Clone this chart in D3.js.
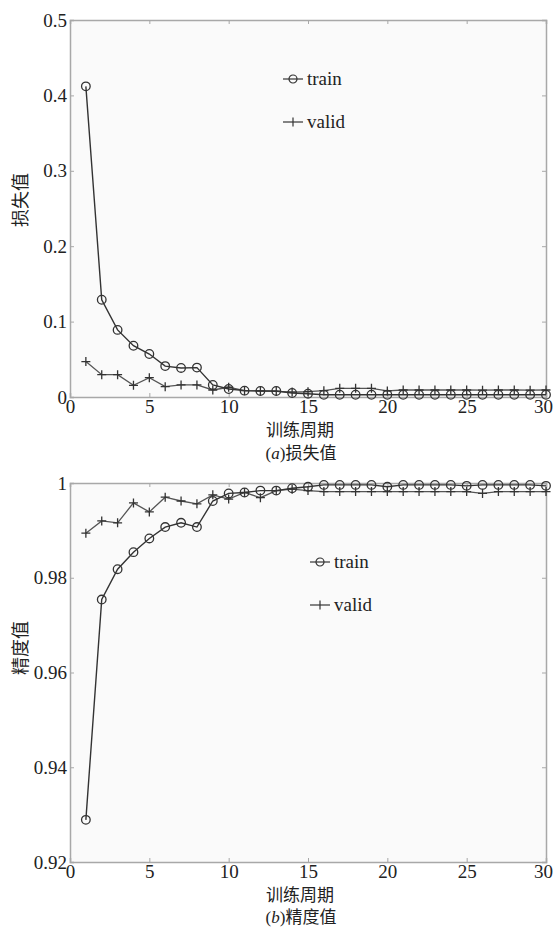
<!DOCTYPE html>
<html>
<head>
<meta charset="utf-8">
<script src="https://cdn.jsdelivr.net/npm/d3@7"></script>
<style>
  body { margin: 0; background: #fff; }
  text { fill: #222; }
</style>
</head>
<body>
<div id="app"></div>
<script>
// data
const epochs = [1, 2, 3, 4, 5, 6, 7, 8, 9, 10, 11, 12, 13, 14, 15, 16, 17, 18, 19, 20, 21, 22, 23, 24, 25, 26, 27, 28, 29, 30];

const lossTrain = [0.412, 0.129, 0.089, 0.068, 0.057, 0.041, 0.0385, 0.039, 0.016, 0.0106,
  0.0084, 0.008, 0.008, 0.0053, 0.0044, 0.003, 0.003, 0.003, 0.003, 0.003,
  0.003, 0.003, 0.003, 0.003, 0.003, 0.003, 0.003, 0.003, 0.003, 0.003];
const lossValid = [0.047, 0.0296, 0.0296, 0.0155, 0.0256, 0.0137, 0.016, 0.016, 0.0093, 0.0129,
  0.0084, 0.008, 0.0075, 0.0065, 0.007, 0.0084, 0.0115, 0.0115, 0.0115, 0.008,
  0.0093, 0.0093, 0.0093, 0.0093, 0.0093, 0.009, 0.0093, 0.0093, 0.009, 0.0093];

const accTrain = [0.9289, 0.9754, 0.9818, 0.9854, 0.9883, 0.9907, 0.9916, 0.9907, 0.9962, 0.9978,
  0.998, 0.9984, 0.9984, 0.9989, 0.9992, 0.9996, 0.9996, 0.9996, 0.9996, 0.9992,
  0.9996, 0.9996, 0.9996, 0.9996, 0.9994, 0.9996, 0.9996, 0.9996, 0.9996, 0.9994];
const accValid = [0.9894, 0.992, 0.9916, 0.9958, 0.9939, 0.997, 0.9962, 0.9956, 0.9975, 0.9966,
  0.998, 0.9969, 0.9984, 0.9987, 0.9984, 0.9982, 0.9982, 0.9982, 0.9982, 0.9982,
  0.9982, 0.9982, 0.9982, 0.9982, 0.9982, 0.9978, 0.9982, 0.9982, 0.9982, 0.9982];

const xTicks = [0, 5, 10, 15, 20, 25, 30];
const lossTicks = [0, 0.1, 0.2, 0.3, 0.4, 0.5];
const lossTickLabels = ['0', '0.1', '0.2', '0.3', '0.4', '0.5'];
const accTicks = [0.92, 0.94, 0.96, 0.98, 1];
const accTickLabels = ['0.92', '0.94', '0.96', '0.98', '1'];

const seriesNames = ['train', 'valid'];

const serif = "'Liberation Serif', 'DejaVu Serif', serif";
const cjk = "'Noto Sans CJK SC', sans-serif";

const svg = d3.select('#app').append('svg')
  .attr('width', 553).attr('height', 927);

// Panel function
function Panel(opts) {
  const { top, bottom, left, right, yDomain, yTicks, yLabels, train, valid,
    yTitle, yTitleY, caption, legendX, legendY, xTitleY, captionY, xPad } = opts;

  const x = d3.scaleLinear().domain([0, 30]).range([left, right]);
  const y = d3.scaleLinear().domain(yDomain).range([bottom, top]);

  const g = svg.append('g');

  g.append('rect')
    .attr('x', left).attr('y', top)
    .attr('width', right - left).attr('height', bottom - top)
    .attr('fill', '#fafafa');

  const fmtY = (d) => yLabels[yTicks.indexOf(d)];

  // inward ticks on all four sides
  const axL = g.append('g').attr('transform', `translate(${left},0)`)
    .call(d3.axisLeft(y).tickValues(yTicks).tickSize(-4).tickPadding(3).tickFormat(fmtY));
  const axR = g.append('g').attr('transform', `translate(${right},0)`)
    .call(d3.axisRight(y).tickValues(yTicks).tickSize(-4).tickFormat(''));
  const axB = g.append('g').attr('transform', `translate(0,${bottom})`)
    .call(d3.axisBottom(x).tickValues(xTicks).tickSize(-4).tickPadding(xPad));
  const axT = g.append('g').attr('transform', `translate(0,${top})`)
    .call(d3.axisTop(x).tickValues(xTicks).tickSize(-4).tickFormat(''));

  [axL, axR, axB, axT].forEach((a) => {
    a.attr('font-family', serif).attr('font-size', 19);
    a.select('.domain').attr('stroke', '#a8a8a8').attr('stroke-width', 1.5);
    a.selectAll('.tick line').attr('stroke', '#a8a8a8');
    a.selectAll('text')
      .style('font-family', serif).style('font-size', '19px').attr('fill', '#222');
  });
  axB.selectAll('.tick text')
    .attr('dx', (d) => (d === 30 ? -3 : 0));

  // lines
  const line = d3.line()
    .x((d, i) => x(epochs[i]))
    .y((d) => y(d));

  g.append('path').attr('d', line(valid))
    .attr('fill', 'none').attr('stroke', '#555').attr('stroke-width', 1.3);
  g.append('path').attr('d', line(train))
    .attr('fill', 'none').attr('stroke', '#333').attr('stroke-width', 1.4);

  // markers
  g.append('g').selectAll('path').data(valid).join('path')
    .attr('d', (d, i) => {
      const cx = x(epochs[i]), cy = y(d);
      return `M${cx - 4.5},${cy}H${cx + 4.5}M${cx},${cy - 4.5}V${cy + 4.5}`;
    })
    .attr('stroke', '#333').attr('stroke-width', 1.3);
  g.append('g').selectAll('circle').data(train).join('circle')
    .attr('cx', (d, i) => x(epochs[i]))
    .attr('cy', (d) => y(d))
    .attr('r', 4.3)
    .attr('fill', 'none').attr('stroke', '#333').attr('stroke-width', 1.3);

  // legend
  const leg = g.append('g').attr('transform', `translate(${legendX},${legendY})`);
  seriesNames.forEach((name, i) => {
    const ly = i * 43;
    leg.append('line').attr('x1', 0).attr('x2', 20).attr('y1', ly).attr('y2', ly)
      .attr('stroke', '#333').attr('stroke-width', 1.2);
    if (i === 0) {
      leg.append('circle').attr('cx', 10).attr('cy', ly).attr('r', 4)
        .attr('fill', 'none').attr('stroke', '#333').attr('stroke-width', 1.2);
    } else {
      leg.append('line').attr('x1', 10).attr('x2', 10).attr('y1', ly - 4.5).attr('y2', ly + 4.5)
        .attr('stroke', '#333').attr('stroke-width', 1.2);
    }
    leg.append('text').attr('x', 24).attr('y', ly).attr('dy', '0.32em')
      .style('font-family', serif).style('font-size', '19px').text(name);
  });

  // titles
  g.append('text')
    .attr('transform', `translate(21,${yTitleY}) rotate(-90)`)
    .attr('text-anchor', 'middle').attr('dy', '0.35em')
    .style('font-family', cjk).style('font-size', '18px').text(yTitle);

  g.append('text')
    .attr('x', 300).attr('y', xTitleY).attr('text-anchor', 'middle')
    .style('font-family', cjk).style('font-size', '17px').text('训练周期');

  const cap = g.append('text')
    .attr('x', 301).attr('y', captionY).attr('text-anchor', 'middle')
    .style('font-size', '17px');
  cap.append('tspan').style('font-family', serif).text('(');
  cap.append('tspan').style('font-family', serif).style('font-style', 'italic').text(caption[0]);
  cap.append('tspan').style('font-family', serif).text(')');
  cap.append('tspan').style('font-family', cjk).text(caption[1]);
}

Panel({
  top: 20, bottom: 397, left: 70, right: 546,
  yDomain: [0, 0.5], yTicks: lossTicks, yLabels: lossTickLabels,
  train: lossTrain, valid: lossValid,
  yTitle: '损失值', yTitleY: 200,
  caption: ['a', '损失值'],
  legendX: 283, legendY: 79,
  xTitleY: 436, captionY: 459, xPad: 2.5,
});

Panel({
  top: 483, bottom: 862, left: 70, right: 546,
  yDomain: [0.92, 1], yTicks: accTicks, yLabels: accTickLabels,
  train: accTrain, valid: accValid,
  yTitle: '精度值', yTitleY: 648,
  caption: ['b', '精度值'],
  legendX: 310, legendY: 562,
  xTitleY: 901, captionY: 923, xPad: 2,
});
</script>
</body>
</html>
